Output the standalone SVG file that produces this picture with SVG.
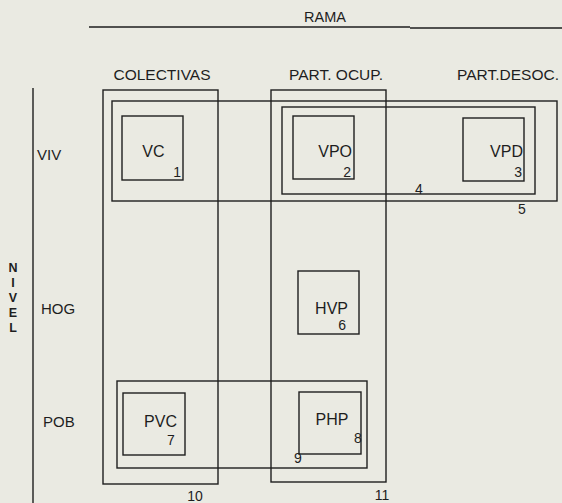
<svg xmlns="http://www.w3.org/2000/svg" width="562" height="503" viewBox="0 0 562 503">
<style>
.b{fill:none;stroke:#1e1e1e;stroke-width:1.4}
.ax{fill:none;stroke:#1e1e1e;stroke-width:1.4}
text{font-family:"Liberation Sans",Arial,sans-serif;fill:#1e1e1e}
.h{font-size:15.5px;text-anchor:middle}
.n{font-size:16px;text-anchor:end}
.d{font-size:14px}
.r{font-size:15px}
.v{font-size:12.5px;text-anchor:middle;font-weight:bold}
</style>
<rect width="562" height="503" fill="#eaeae2"/>
<g id="axes">
<line class="ax" x1="89" y1="27" x2="410" y2="27"/>
<line class="ax" x1="410" y1="28" x2="562" y2="28"/>
<line class="ax" x1="33" y1="88" x2="33" y2="503"/>
<text x="325" y="22" class="h" style="font-size:14.5px">RAMA</text>
<text x="162" y="79.5" class="h">COLECTIVAS</text>
<text x="336" y="79.5" class="h">PART. OCUP.</text>
<text x="508" y="79.5" class="h">PART.DESOC.</text>
<text x="37" y="160" class="r">VIV</text>
<text x="41" y="314" class="r">HOG</text>
<text x="43" y="427" class="r">POB</text>
<text x="13" y="272" class="v">N</text>
<text x="13" y="287" class="v">I</text>
<text x="13" y="302" class="v">V</text>
<text x="13" y="317" class="v">E</text>
<text x="13" y="332" class="v">L</text>
</g>
<g id="box10">
<rect class="b" x="103" y="90" width="115" height="394"/>
<text x="195" y="501" class="d" text-anchor="middle">10</text>
</g>
<g id="box11">
<rect class="b" x="271" y="90" width="115" height="392"/>
<text x="382" y="500" class="d" text-anchor="middle">11</text>
</g>
<g id="box5">
<rect class="b" x="112" y="101" width="445" height="100"/>
<text x="522" y="214" class="d" text-anchor="middle">5</text>
</g>
<g id="box4">
<rect class="b" x="282" y="107" width="253" height="87"/>
<text x="419" y="194" class="d" text-anchor="middle">4</text>
</g>
<g id="VC">
<rect class="b" x="122" y="116" width="61" height="64"/>
<text x="164.5" y="157" class="n">VC</text>
<text x="181" y="177" class="d" text-anchor="end">1</text>
</g>
<g id="VPO">
<rect class="b" x="293" y="116" width="61" height="63"/>
<text x="352" y="157" class="n">VPO</text>
<text x="351" y="177" class="d" text-anchor="end">2</text>
</g>
<g id="VPD">
<rect class="b" x="463" y="118" width="61" height="63"/>
<text x="523" y="157" class="n">VPD</text>
<text x="522" y="177" class="d" text-anchor="end">3</text>
</g>
<g id="HVP">
<rect class="b" x="298" y="271" width="61" height="63"/>
<text x="348" y="314" class="n">HVP</text>
<text x="346" y="330" class="d" text-anchor="end">6</text>
</g>
<g id="box9">
<rect class="b" x="117" y="381" width="250" height="87"/>
<text x="298" y="463" class="d" text-anchor="middle">9</text>
</g>
<g id="PVC">
<rect class="b" x="123" y="393" width="62" height="62"/>
<text x="177" y="427" class="n">PVC</text>
<text x="171" y="445" class="d" text-anchor="middle">7</text>
</g>
<g id="PHP">
<rect class="b" x="299" y="392" width="62" height="62"/>
<text x="348.5" y="425" class="n">PHP</text>
<text x="358" y="443" class="d" text-anchor="middle">8</text>
</g>
<g id="connectors"></g>
</svg>
